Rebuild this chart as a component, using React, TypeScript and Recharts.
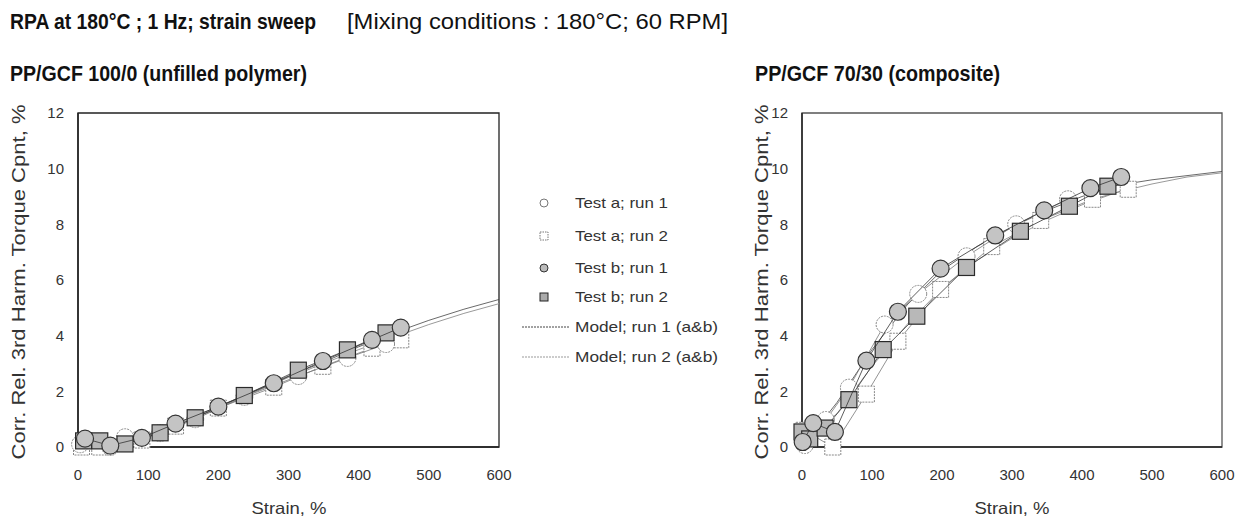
import React from 'react'
import { ComposedChart, Scatter, XAxis, YAxis, ReferenceArea } from 'recharts'

const xTicks = [0, 100, 200, 300, 400, 500, 600]
const yTicks = [0, 2, 4, 6, 8, 10, 12]
const modelStrain = [0, 50, 100, 150, 200, 250, 300, 350, 400, 450, 500, 550, 600]

// PP/GCF 100/0 (unfilled)
const pureA1Strain = [3, 46, 67, 117, 167, 237, 314, 384, 439]
const pureA1Torque = [0.1, 0.0, 0.35, 0.5, 1.0, 1.8, 2.55, 3.2, 3.7]
const pureA2Strain = [5, 31, 91, 139, 200, 279, 349, 419, 460]
const pureA2Torque = [0.0, 0.0, 0.25, 0.75, 1.4, 2.15, 2.9, 3.55, 3.85]
const pureB1Strain = [10, 46, 91, 139, 200, 279, 349, 419, 460]
const pureB1Torque = [0.3, 0.05, 0.33, 0.84, 1.45, 2.29, 3.09, 3.85, 4.29]
const pureB2Strain = [8, 31, 67, 117, 167, 237, 314, 384, 439]
const pureB2Torque = [0.22, 0.22, 0.11, 0.51, 1.05, 1.85, 2.76, 3.49, 4.1]
const pureModel1 = [0.25, 0.1, 0.45, 0.95, 1.45, 2.0, 2.55, 3.05, 3.6, 4.1, 4.55, 4.95, 5.3]
const pureModel2 = [0.2, 0.1, 0.4, 0.9, 1.4, 1.95, 2.5, 3.0, 3.5, 3.95, 4.4, 4.8, 5.15]

// PP/GCF 70/30 (composite)
const compA1Strain = [4, 34, 67, 118, 166, 235, 306, 380]
const compA1Torque = [0.07, 0.97, 2.13, 4.4, 5.5, 6.85, 8.0, 8.9]
const compA2Strain = [3, 44, 92, 137, 198, 271, 341, 415, 466]
const compA2Torque = [0.6, 0.0, 1.9, 3.8, 5.66, 7.2, 8.14, 8.9, 9.26]
const compB1Strain = [1, 16, 47, 92, 137, 198, 276, 346, 412, 456]
const compB1Torque = [0.18, 0.86, 0.54, 3.1, 4.86, 6.41, 7.6, 8.5, 9.3, 9.7]
const compB2Strain = [0, 11, 33, 67, 116, 164, 235, 312, 382, 437]
const compB2Torque = [0.54, 0.29, 0.68, 1.7, 3.5, 4.7, 6.45, 7.75, 8.65, 9.37]
const compModel1 = [0.0, 1.6, 3.5, 5.1, 6.35, 7.2, 7.9, 8.5, 9.0, 9.4, 9.6, 9.75, 9.9]
const compModel2 = [0.2, 1.2, 2.9, 4.4, 5.7, 6.7, 7.5, 8.15, 8.7, 9.15, 9.45, 9.7, 9.85]

const zip = (xs: number[], ys: number[]) => xs.map((x, i) => ({ x, y: ys[i] }))

const FONT = '"Liberation Sans", Arial, sans-serif'

const OpenCircle = (p: any) => (
  <circle cx={p.cx} cy={p.cy} r={8.5} fill="#fff" stroke="#888" strokeWidth={1} strokeDasharray="2 1" />
)
const OpenSquare = (p: any) => (
  <rect x={p.cx - 8} y={p.cy - 8} width={16} height={16} fill="#fff" stroke="#888" strokeWidth={1} strokeDasharray="2 1" />
)
const FilledCircle = (p: any) => (
  <circle cx={p.cx} cy={p.cy} r={8.5} fill="#c4c4c4" stroke="#333" strokeWidth={1.2} />
)
const FilledSquare = (p: any) => (
  <rect x={p.cx - 8} y={p.cy - 8} width={16} height={16} fill="#b8b8b8" stroke="#2a2a2a" strokeWidth={1.2} />
)
const NoDot = () => <g />

interface PanelProps {
  a1: { x: number; y: number }[]
  a2: { x: number; y: number }[]
  b1: { x: number; y: number }[]
  b2: { x: number; y: number }[]
  m1: { x: number; y: number }[]
  m2: { x: number; y: number }[]
  left: number
  marginLeft: number
  marginRight: number
  width: number
  boxStroke: string
}

function Panel({ a1, a2, b1, b2, m1, m2, left, marginLeft, marginRight, width, boxStroke }: PanelProps) {
  const tick = { fontSize: 15, fill: '#333', fontFamily: FONT }
  return (
    <div style={{ position: 'absolute', left, top: 0 }}>
      <ComposedChart width={width} height={521} margin={{ top: 113, right: marginRight, bottom: 44, left: marginLeft }}>
        <XAxis type="number" dataKey="x" domain={[0, 600]} ticks={xTicks} height={30}
          axisLine={{ stroke: '#222', strokeWidth: 1.5 }} tickLine={false} tick={tick} tickMargin={16} />
        <YAxis type="number" dataKey="y" domain={[0, 12]} ticks={yTicks} width={30}
          axisLine={{ stroke: '#222', strokeWidth: 1.5 }} tickLine={false} tick={tick} tickMargin={8} />
        <ReferenceArea x1={0} x2={600} y1={0} y2={12} fill="none" stroke={boxStroke} strokeWidth={1.3} />
        <Scatter data={m2} shape={NoDot} line={{ stroke: '#9a9a9a', strokeWidth: 1 }} isAnimationActive={false} />
        <Scatter data={m1} shape={NoDot} line={{ stroke: '#444', strokeWidth: 0.8 }} isAnimationActive={false} />
        <Scatter data={a2} shape={OpenSquare} line={{ stroke: '#777', strokeWidth: 0.8 }} isAnimationActive={false} />
        <Scatter data={a1} shape={OpenCircle} line={{ stroke: '#777', strokeWidth: 0.8 }} isAnimationActive={false} />
        <Scatter data={b2} shape={FilledSquare} line={{ stroke: '#333', strokeWidth: 0.8 }} isAnimationActive={false} />
        <Scatter data={b1} shape={FilledCircle} line={{ stroke: '#333', strokeWidth: 0.8 }} isAnimationActive={false} />
      </ComposedChart>
    </div>
  )
}

const legendRows = [
  { label: 'Test a; run 1', y: 203, kind: 'oc' },
  { label: 'Test a; run 2', y: 236, kind: 'os' },
  { label: 'Test b; run 1', y: 268, kind: 'fc' },
  { label: 'Test b; run 2', y: 297, kind: 'fs' },
  { label: 'Model; run 1 (a&b)', y: 327, kind: 'm1' },
  { label: 'Model; run 2 (a&b)', y: 357, kind: 'm2' },
]

function LegendMark({ kind, y }: { kind: string; y: number }) {
  const cx = 544
  if (kind === 'oc') return <circle cx={cx} cy={y} r={4} fill="#fff" stroke="#777" strokeWidth={1} />
  if (kind === 'os') return <rect x={cx - 4} y={y - 4} width={8} height={8} fill="#fff" stroke="#777" strokeWidth={1} strokeDasharray="1.5 1" />
  if (kind === 'fc') return <circle cx={cx} cy={y} r={4} fill="#bbb" stroke="#333" strokeWidth={1} />
  if (kind === 'fs') return <rect x={cx - 4} y={y - 4} width={8} height={8} fill="#aaa" stroke="#222" strokeWidth={1} />
  if (kind === 'm1') return <line x1={522} x2={570} y1={y} y2={y} stroke="#444" strokeWidth={1} strokeDasharray="2 1" />
  return <line x1={522} x2={570} y1={y} y2={y} stroke="#999" strokeWidth={1} strokeDasharray="2 1" />
}

export default function App() {
  return (
    <div style={{ position: 'absolute', left: 0, top: 0, width: 1239, height: 521, background: '#fff', fontFamily: FONT }}>
      <Panel
        a1={zip(pureA1Strain, pureA1Torque)} a2={zip(pureA2Strain, pureA2Torque)}
        b1={zip(pureB1Strain, pureB1Torque)} b2={zip(pureB2Strain, pureB2Torque)}
        m1={zip(modelStrain, pureModel1)} m2={zip(modelStrain, pureModel2)}
        left={0} width={520} marginLeft={48} marginRight={21} boxStroke="#222"
      />
      <Panel
        a1={zip(compA1Strain, compA1Torque)} a2={zip(compA2Strain, compA2Torque)}
        b1={zip(compB1Strain, compB1Torque)} b2={zip(compB2Strain, compB2Torque)}
        m1={zip(modelStrain, compModel1)} m2={zip(modelStrain, compModel2)}
        left={720} width={519} marginLeft={52} marginRight={17} boxStroke="#555"
      />
      <svg width={1239} height={521} style={{ position: 'absolute', left: 0, top: 0, pointerEvents: 'none' }}>
        <g fontFamily={FONT} fill="#111">
          <text x={10} y={29} fontSize={22} fontWeight="bold" textLength={306} lengthAdjust="spacingAndGlyphs">RPA at 180°C ; 1 Hz; strain sweep</text>
          <text x={347} y={29} fontSize={22} textLength={381} lengthAdjust="spacingAndGlyphs">[Mixing conditions : 180°C; 60 RPM]</text>
          <text x={10} y={81} fontSize={22} fontWeight="bold" textLength={297} lengthAdjust="spacingAndGlyphs">PP/GCF 100/0 (unfilled polymer)</text>
          <text x={755} y={81} fontSize={22} fontWeight="bold" textLength={245} lengthAdjust="spacingAndGlyphs">PP/GCF 70/30 (composite)</text>
          <text transform="translate(25,282) rotate(-90)" textAnchor="middle" fontSize={17.5} fill="#333" textLength={355} lengthAdjust="spacingAndGlyphs">Corr. Rel. 3rd Harm. Torque Cpnt, %</text>
          <text transform="translate(768,282) rotate(-90)" textAnchor="middle" fontSize={17.5} fill="#333" textLength={355} lengthAdjust="spacingAndGlyphs">Corr. Rel. 3rd Harm. Torque Cpnt, %</text>
          <text x={289} y={514} textAnchor="middle" fontSize={16.5} fill="#333" textLength={75} lengthAdjust="spacingAndGlyphs">Strain, %</text>
          <text x={1012} y={514} textAnchor="middle" fontSize={16.5} fill="#333" textLength={75} lengthAdjust="spacingAndGlyphs">Strain, %</text>
          {legendRows.map(r => (
            <g key={r.label}>
              <LegendMark kind={r.kind} y={r.y} />
              <text x={575} y={r.y + 5} fontSize={15} fill="#333" textLength={r.kind.startsWith('m') ? 143 : 93} lengthAdjust="spacingAndGlyphs">{r.label}</text>
            </g>
          ))}
        </g>
      </svg>
    </div>
  )
}
